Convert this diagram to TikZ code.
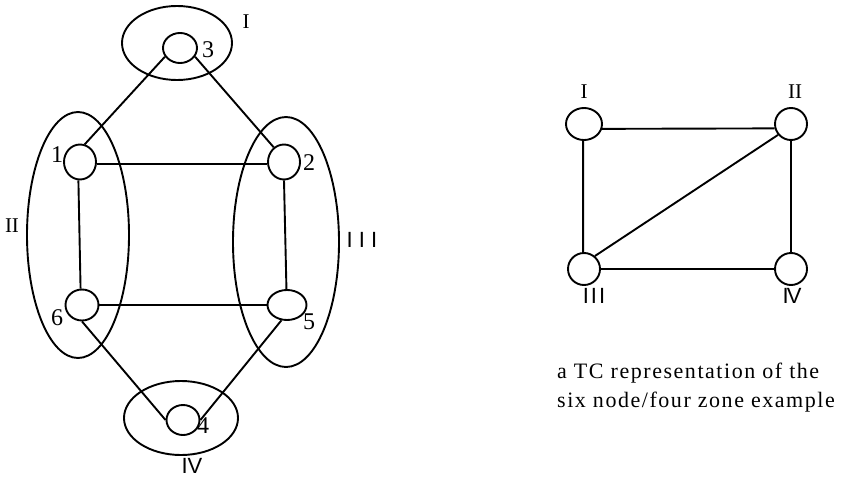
\documentclass[tikz,border=0pt]{standalone}
\usepackage{fontspec}
\setmainfont{Liberation Serif}
\newfontfamily\labsans{Liberation Sans}
\newfontfamily\capfont[LetterSpace=7]{Liberation Serif}
\usetikzlibrary{shapes.geometric}

\tikzset{
  wire/.style={line width=1.9pt},
  site/.style={draw, line width=1.9pt, ellipse, inner sep=0pt},
  zone/.style={draw, line width=1.9pt, ellipse, inner sep=0pt},
  numtext/.style={inner sep=0pt, font=\fontsize{24}{26}\selectfont},
  romtext/.style={inner sep=0pt, font=\fontsize{21}{23}\selectfont},
  romsans/.style={inner sep=0pt, font=\labsans\fontsize{22}{24}\selectfont},
  captext/.style={inner sep=0pt, anchor=base west, font=\capfont\fontsize{22}{29}\selectfont}
}

\begin{document}
\begin{tikzpicture}[x=1pt,y=-1pt]
\useasboundingbox (0,0) rectangle (851,479);

% zones of the six-node network
\node[zone, minimum width=110pt, minimum height=74pt] (zI)   at (177,43)  {};
\node[zone, minimum width=102pt, minimum height=246pt] (zII)  at (78,235)  {};
\node[zone, minimum width=106pt, minimum height=250pt] (zIII) at (286,242) {};
\node[zone, minimum width=114pt, minimum height=74pt] (zIV)  at (181,418) {};

% the six nodes
\node[site, minimum width=34pt, minimum height=30pt] (n3) at (180,48)  {};
\node[site, minimum width=32pt, minimum height=35pt] (n1) at (80,162)  {};
\node[site, minimum width=32pt, minimum height=35pt] (n2) at (284,162) {};
\node[site, minimum width=33pt, minimum height=31pt] (n6) at (82,305)  {};
\node[site, minimum width=39pt, minimum height=30pt] (n5) at (287,305) {};
\node[site, minimum width=33pt, minimum height=30pt] (n4) at (183,420) {};

% links
\draw[wire] (n3.210) -- (n1.75);
\draw[wire] (n3.330) -- (n2.125);
\draw[wire] (n1.-8) -- (n2.188);
\draw[wire] (n1.-95) -- (n6.95);
\draw[wire] (n2.-90) -- (n5.92);
\draw[wire] (n6.east) -- (n5.west);
\draw[wire] (n6.south) -- (n4.west);
\draw[wire] (n5.250) -- (n4.east);

% node numbers
\node[numtext] (l3) at (208,50)  {3};
\node[numtext] (l1) at (57,155)  {1};
\node[numtext] (l2) at (309,163) {2};
\node[numtext] (l6) at (57,318)  {6};
\node[numtext] (l5) at (309,322) {5};
\node[numtext] (l4) at (203,426) {4};

% zone names
\node[romtext] (tI)   at (246,22)  {I};
\node[romtext] (tII)  at (12,226)  {II};
\node[romsans] (tIII) at (362,240) {I I I};
\node[romsans] (tIV)  at (192,466) {IV};

% zone graph
\node[site, minimum width=36pt, minimum height=32pt] (rI)   at (584,124) {};
\node[site, minimum width=32pt, minimum height=32pt] (rII)  at (791,124) {};
\node[site, minimum width=32pt, minimum height=32pt] (rIII) at (584,269) {};
\node[site, minimum width=32pt, minimum height=32pt] (rIV)  at (791,269) {};

\draw[wire] (rI.-15) -- (rII.195);
\draw[wire] (rI.-93) -- (rIII.93);
\draw[wire] (rII.-90) -- (rIV.90);
\draw[wire] (rIII.east) -- (rIV.west);
\draw[wire] (rIII.50) -- (rII.220);

\node[romtext] (qI)   at (584,92)  {I};
\node[romtext] (qII)  at (795,92)  {II};
\node[romsans] (qIII) at (594,296) {I\hspace{2pt}I\hspace{2pt}I};
\node[romsans] (qIV)  at (792,296) {I\kern-2pt V};

% caption
\node[captext] (c1) at (557,378) {a TC representation of the};
\node[captext] (c2) at (557,407) {six node/four zone example};
\end{tikzpicture}
\end{document}
